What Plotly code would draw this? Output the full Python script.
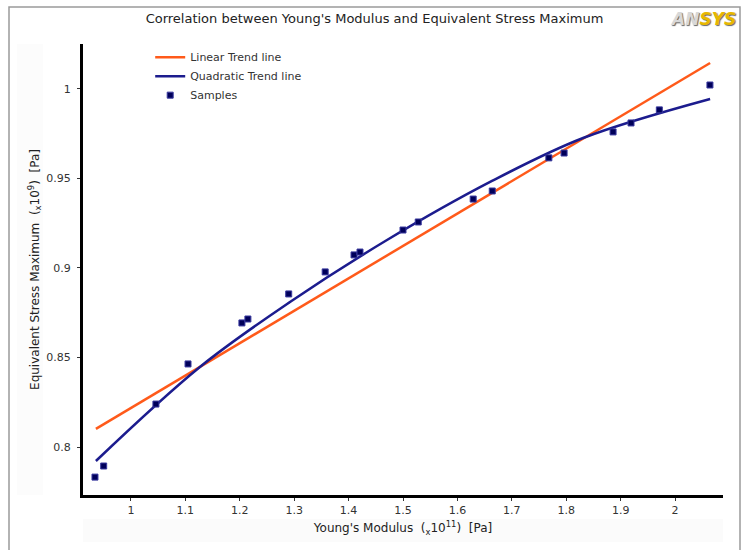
import plotly.graph_objects as go

# Samples (Young's modulus x1e11 Pa, equivalent stress max x1e9 Pa)
sample_x = [0.934, 0.950, 1.046, 1.105, 1.204, 1.215, 1.290, 1.357, 1.410, 1.421,
            1.500, 1.528, 1.629, 1.664, 1.768, 1.796, 1.886, 1.919, 1.971, 2.064]
sample_y = [0.7832, 0.7894, 0.8240, 0.8464, 0.8693, 0.8715, 0.8855, 0.8978, 0.9073, 0.9089,
            0.9212, 0.9257, 0.9385, 0.9430, 0.9615, 0.9642, 0.9760, 0.9810, 0.9883, 1.0022]

# Linear trend line
lin_x = [0.9357, 2.0643]
lin_y = [0.8101, 1.0145]

# Quadratic trend line
quad_x = [0.9357, 1.1268, 1.2923, 1.4706, 1.6636, 1.8309, 2.0643]
quad_y = [0.7922, 0.8447, 0.8810, 0.9156, 0.9486, 0.9726, 0.9944]

x_ticks = [1, 1.1, 1.2, 1.3, 1.4, 1.5, 1.6, 1.7, 1.8, 1.9, 2]
x_labels = ["1", "1.1", "1.2", "1.3", "1.4", "1.5", "1.6", "1.7", "1.8", "1.9", "2"]
y_ticks = [0.8, 0.85, 0.9, 0.95, 1]
y_labels = ["0.8", "0.85", "0.9", "0.95", "1"]

FONT = "DejaVu Sans"

fig = go.Figure()
fig.add_trace(go.Scatter(x=lin_x, y=lin_y, mode="lines", name="Linear Trend line",
                         line=dict(color="#ff5a1a", width=2.5)))
fig.add_trace(go.Scatter(x=quad_x, y=quad_y, mode="lines", name="Quadratic Trend line",
                         line=dict(color="#1c1c8e", width=2.5, shape="spline", smoothing=1.0)))
fig.add_trace(go.Scatter(x=sample_x, y=sample_y, mode="markers", name="Samples",
                         marker=dict(symbol="square", size=6, color="#00005a",
                                     line=dict(color="#3a3aa0", width=1))))

fig.update_layout(
    width=749, height=550,
    margin=dict(l=83, r=26, t=44, b=55),
    paper_bgcolor="white", plot_bgcolor="white",
    font=dict(family=FONT, size=11, color="#333333"),
    title=dict(text="Correlation between Young's Modulus and Equivalent Stress Maximum",
               x=0.5, xref="container", xanchor="center",
               y=1 - 18 / 550, yref="container", yanchor="middle",
               font=dict(family=FONT, size=13, color="#222222")),
    showlegend=True,
    legend=dict(x=0.105, y=1.003, xanchor="left", yanchor="top",
                bgcolor="rgba(0,0,0,0)", font=dict(family=FONT, size=11, color="#333333"),
                tracegroupgap=0, itemwidth=30),
    xaxis=dict(range=[0.912, 2.088], tickvals=x_ticks, ticktext=x_labels,
               showgrid=False, zeroline=False, showline=True, linecolor="black", linewidth=3,
               ticks="outside", ticklen=3, tickcolor="#333333", ticklabelstandoff=0,
               title=dict(text="Young's Modulus  (<sub>x</sub>10<sup>11</sup>)  [Pa]",
                          standoff=8, font=dict(family=FONT, size=12, color="#222222"))),
    yaxis=dict(range=[0.7732, 1.0251], tickvals=y_ticks, ticktext=y_labels,
               showgrid=False, zeroline=False, showline=True, linecolor="black", linewidth=3,
               ticks="outside", ticklen=3, tickcolor="#333333", ticklabelstandoff=4,
               title=dict(text="Equivalent Stress Maximum  (<sub>x</sub>10<sup>9</sup>)  [Pa]",
                          standoff=5, font=dict(family=FONT, size=12, color="#222222"))),
)

# outer gray frame (left, top, right)
fig.add_shape(type="rect", xref="paper", yref="paper",
              x0=(9 - 83) / 640, x1=(740 - 83) / 640, y0=-0.3, y1=1 + (44 - 7) / 451,
              line=dict(color="#9a9a9a", width=1.5), fillcolor="rgba(0,0,0,0)", layer="below")
# faint boxes behind axis titles
fig.add_shape(type="rect", xref="paper", yref="paper",
              x0=(17 - 83) / 640, x1=(43 - 83) / 640, y0=0, y1=1,
              line=dict(width=0), fillcolor="#fcfcfc", layer="below")
fig.add_shape(type="rect", xref="paper", yref="paper",
              x0=0, x1=1, y0=-(519 - 495) / 451, y1=-(542 - 495) / 451,
              line=dict(width=0), fillcolor="#fbfbfb", layer="below")

# ANSYS logo text
fig.add_annotation(xref="paper", yref="paper", x=(703 - 83) / 640, y=1 + (44 - 19) / 451,
                   text="<b><i><span style='color:#d8d8d8'>AN</span><span style='color:#e8b800'>SYS</span></i></b>",
                   showarrow=False, xanchor="center", yanchor="middle",
                   font=dict(family=FONT, size=17, shadow="1px 1px 1px #666"))

fig.write_html("out.html")
